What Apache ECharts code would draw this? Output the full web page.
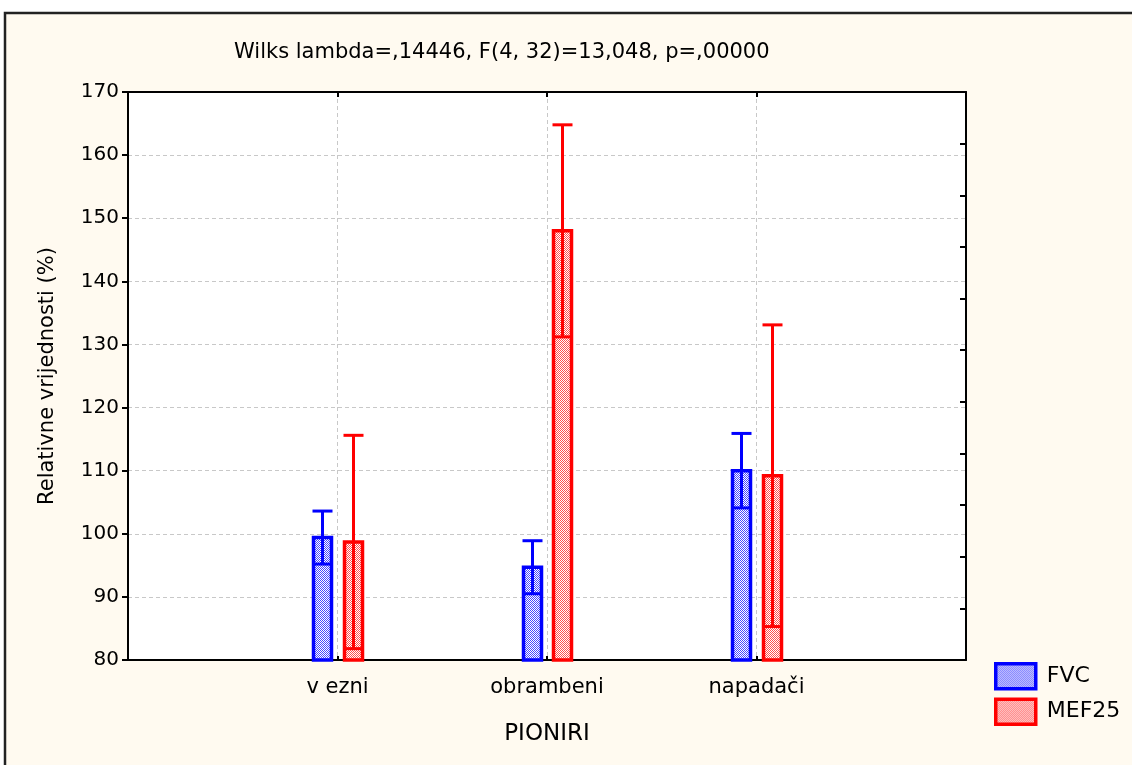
<!DOCTYPE html>
<html>
<head>
<meta charset="utf-8">
<script src="https://cdn.jsdelivr.net/npm/echarts@6/dist/echarts.min.js"></script>
<style>
  html, body { margin: 0; padding: 0; background: #fff; }
  #chart { width: 1132px; height: 765px; }
</style>
</head>
<body>
<div id="chart"></div>
<script>
var categories = ['v ezni', 'obrambeni', 'napadači'];
var fvcMean = [99.4, 94.7, 110.0];
var fvcErr = [4.2, 4.2, 5.9];
var mefMean = [98.7, 148.0, 109.2];
var mefErr = [16.9, 16.8, 23.9];
var yMin = 80, yMax = 170, yStep = 10;
var titleText = 'Wilks lambda=,14446, F(4, 32)=13,048, p=,00000';

var FONT = '"DejaVu Sans", "Liberation Sans", sans-serif';

function makePattern(color) {
    var c = document.createElement('canvas');
    c.width = 2; c.height = 2;
    var ctx = c.getContext('2d');
    ctx.fillStyle = '#ffffff';
    ctx.fillRect(0, 0, 2, 2);
    ctx.fillStyle = color;
    ctx.fillRect(0, 0, 1, 1);
    ctx.fillRect(1, 1, 1, 1);
    return { image: c, repeat: 'repeat' };
}

var bluePat = makePattern('#4848ff');
var redPat = makePattern('#ff5050');

// padded category axis so the groups sit on the 1/4, 2/4, 3/4 positions
var axisCats = [''].concat(categories, ['']);

function errData(means, errs) {
    return means.map(function (m, i) { return [i + 1, m, errs[i]]; });
}

function barRenderer(offset, color, pattern) {
    var hw = 9;
    return function (params, api) {
        var x = api.value(0), m = api.value(1), e = api.value(2);
        var top = api.coord([x, m]);
        var base = api.coord([x, yMin]);
        var lo = api.coord([x, m - e]);
        var hi = api.coord([x, m + e]);
        var cx = Math.round(top[0] + offset) + 0.5;
        var ls = { stroke: color, lineWidth: 3 };
        return {
            type: 'group',
            children: [
                { type: 'rect', shape: { x: cx - hw, y: top[1], width: hw * 2, height: base[1] - top[1] },
                  style: { fill: pattern, stroke: color, lineWidth: 3.5 } },
                { type: 'line', shape: { x1: cx, y1: lo[1], x2: cx, y2: hi[1] }, style: ls },
                { type: 'line', shape: { x1: cx - hw, y1: lo[1], x2: cx + hw, y2: lo[1] }, style: ls },
                { type: 'line', shape: { x1: cx - hw - 1, y1: hi[1], x2: cx + hw + 1, y2: hi[1] }, style: ls }
            ]
        };
    };
}

var chart = echarts.init(document.getElementById('chart'));

var option = {
    backgroundColor: '#ffffff',
    animation: false,
    graphic: [{
        type: 'rect',
        z: -100,
        shape: { x: 5, y: 13, width: 1140, height: 760 },
        style: { fill: '#fffaf0', stroke: '#222222', lineWidth: 2.5 }
    }],
    title: {
        text: titleText,
        left: 229,
        top: 37,
        textStyle: { fontFamily: FONT, fontSize: 21, fontWeight: 'normal', color: '#000' }
    },
    legend: {
        orient: 'vertical',
        left: 994,
        top: 662,
        padding: 0,
        itemWidth: 40,
        itemHeight: 25,
        itemGap: 7,
        icon: 'rect',
        textStyle: { fontFamily: FONT, fontSize: 22, color: '#000', padding: [0, 0, 0, 6] },
        data: [
            { name: 'FVC', itemStyle: { color: bluePat, borderColor: '#0000ff', borderWidth: 3.5 } },
            { name: 'MEF25', itemStyle: { color: redPat, borderColor: '#ff0000', borderWidth: 3.5 } }
        ]
    },
    grid: {
        left: 128, top: 92, right: 166, bottom: 105,
        show: true, backgroundColor: '#ffffff', borderWidth: 0
    },
    xAxis: [{
        type: 'category',
        data: axisCats,
        boundaryGap: false,
        name: 'PIONIRI',
        nameLocation: 'middle',
        nameGap: 63,
        nameTextStyle: { fontFamily: FONT, fontSize: 23, color: '#000' },
        axisLine: { lineStyle: { color: '#000', width: 2 } },
        axisTick: { inside: true, length: 4, lineStyle: { color: '#000', width: 2 } },
        axisLabel: { fontFamily: FONT, fontSize: 21, color: '#000', margin: 17, interval: 0 },
        splitLine: { show: true, lineStyle: { color: '#c8c8c8', type: [4, 3], width: 1 } }
    }, {
        type: 'category',
        position: 'top',
        data: axisCats,
        boundaryGap: false,
        axisLine: { lineStyle: { color: '#000', width: 2 } },
        axisTick: { inside: true, length: 5, lineStyle: { color: '#000', width: 2 } },
        axisLabel: { show: false },
        splitLine: { show: false }
    }],
    yAxis: [{
        type: 'value',
        min: yMin,
        max: yMax,
        interval: yStep,
        name: 'Relativne vrijednosti (%)',
        nameLocation: 'middle',
        nameGap: 70,
        nameTextStyle: { fontFamily: FONT, fontSize: 21, color: '#000' },
        axisLine: { show: true, lineStyle: { color: '#000', width: 2 } },
        axisTick: { show: true, length: 6, lineStyle: { color: '#000', width: 2 } },
        axisLabel: { fontFamily: FONT, fontSize: 20, color: '#000', margin: 9 },
        splitLine: { show: true, lineStyle: { color: '#c8c8c8', type: [4, 3], width: 1 } }
    }, {
        type: 'value',
        position: 'right',
        min: 0,
        max: 11,
        interval: 1,
        axisLine: { show: true, lineStyle: { color: '#000', width: 2 } },
        axisTick: { show: true, inside: true, length: 6, lineStyle: { color: '#000', width: 2 } },
        axisLabel: { show: false },
        splitLine: { show: false }
    }],
    series: [{
        name: 'FVC',
        type: 'custom',
        itemStyle: { color: bluePat, borderColor: '#0000ff', borderWidth: 3 },
        renderItem: barRenderer(-15.5, '#0000ff', bluePat),
        data: errData(fvcMean, fvcErr),
        z: 5
    }, {
        name: 'MEF25',
        type: 'custom',
        itemStyle: { color: redPat, borderColor: '#ff0000', borderWidth: 3 },
        renderItem: barRenderer(15, '#ff0000', redPat),
        data: errData(mefMean, mefErr),
        z: 5
    }]
};

chart.setOption(option);
</script>
</body>
</html>
